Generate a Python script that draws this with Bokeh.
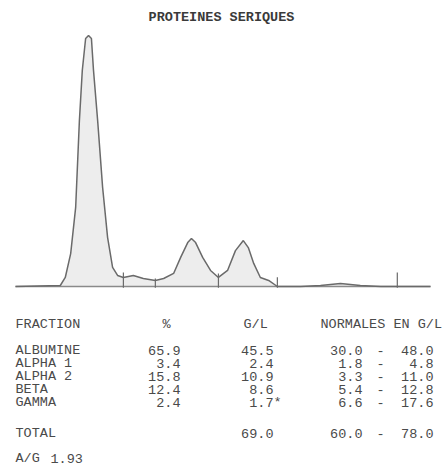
from bokeh.plotting import figure
from bokeh.layouts import column
from bokeh.models import Label, Range1d
from bokeh.embed import file_html
from bokeh.resources import INLINE
from bokeh.core.properties import value

# ---------------- data ----------------
title = "PROTEINES SERIQUES"

# densitometric trace: relative mobility (0-100) vs relative density (peak = 100)
mobility = [0.0, 10.8, 12.0, 13.3, 14.5, 15.4, 16.1, 16.9, 17.6, 18.3, 18.8, 19.8,
            21.0, 22.2, 23.4, 24.6, 26.0, 28.4, 30.8, 33.7, 35.7, 38.1, 39.8, 41.5,
            42.4, 43.4, 45.1, 47.0, 48.9, 51.1, 53.0, 54.9, 56.1, 57.4, 59.0, 61.0,
            63.1, 68.7, 73.5, 78.3, 83.1, 88.0, 100.0]
density = [0.0, 0.4, 3.6, 13.1, 31.5, 66.1, 86.1, 98.8, 100.0, 98.8, 86.1, 66.1,
           39.4, 19.5, 7.6, 4.4, 3.6, 4.4, 3.2, 2.4, 3.2, 5.2, 11.6, 17.5,
           19.1, 17.5, 11.6, 6.4, 3.6, 6.4, 14.3, 18.3, 15.5, 9.2, 3.6, 2.4,
           0.0, 0.0, 0.4, 1.2, 0.4, 0.0, 0.0]

# fraction separators (mobility) and height of the separator marks
sep_x = [26.0, 33.7, 48.9, 63.1, 92.0]
sep_top = [5.6, 3.2, 5.2, 3.7, 5.6]

headers = ["FRACTION", "%", "G/L", "NORMALES EN G/L"]
fractions = ["ALBUMINE", "ALPHA 1", "ALPHA 2", "BETA", "GAMMA"]
percent = [65.9, 3.4, 15.8, 12.4, 2.4]
conc_gl = [45.5, 2.4, 10.9, 8.6, 1.7]
flags = ["", "", "", "", "*"]
norm_low = [30.0, 1.8, 3.3, 5.4, 6.6]
norm_high = [48.0, 4.8, 11.0, 12.8, 17.6]
total_label = "TOTAL"
total_gl = 69.0
total_low = 60.0
total_high = 78.0
ag_label = "A/G"
ag_ratio = 1.93

# ---------------- style ----------------
FONT = "Liberation Mono"
FS = "13.5px"
TXT = "#4a4a4a"

# ---------------- trace figure ----------------
p = figure(width=443, height=298, x_range=Range1d(-3.61, 103.13),
           y_range=Range1d(-4.78, 113.94), output_backend="svg",
           toolbar_location=None, min_border=0)
p.axis.visible = False
p.grid.visible = False
p.outline_line_color = None

p.varea(x=mobility, y1=[0] * len(mobility), y2=density, fill_color="#ededed")
p.line(x=[mobility[0], mobility[-1]], y=[0, 0], line_color="#8a8a8a", line_width=1.6)
p.line(x=mobility, y=density, line_color="#6a6a6a", line_width=1.5)
p.segment(x0=sep_x, y0=[-0.5] * len(sep_x), x1=sep_x, y1=sep_top,
          line_color="#6a6a6a", line_width=1.2)

p.add_layout(Label(x=221, y=281, x_units="screen", y_units="screen", text=title,
                   text_font=FONT, text_font_size=FS, text_color="#3a3a3a",
                   text_font_style="bold", text_align="center",
                   text_baseline="middle"))

# ---------------- table figure ----------------
t = figure(width=443, height=171, x_range=Range1d(0, 443), y_range=Range1d(469, 298),
           output_backend="svg", toolbar_location=None, min_border=0)
t.axis.visible = False
t.grid.visible = False
t.outline_line_color = None

head_y = 324
row_y = [350, 363, 376, 389, 402]
total_y = 433
ag_y = 458

common = dict(text_font=value(FONT), text_font_size=value(FS), text_color=TXT,
              text_baseline="middle")

# headers
t.text(x=[15, 243, 320], y=[head_y] * 3, text=[headers[0], headers[2], headers[3]],
       text_align="left", **common)
t.text(x=[166], y=[head_y], text=[headers[1]], text_align="center", **common)

# fraction rows
n = len(fractions)
t.text(x=[15] * n, y=row_y, text=fractions, text_align="left", **common)
t.text(x=[180] * n, y=row_y, text=[f"{v:.1f}" for v in percent], text_align="right", **common)
t.text(x=[273] * n, y=row_y, text=[f"{v:.1f}" for v in conc_gl], text_align="right", **common)
t.text(x=[273] * n, y=row_y, text=flags, text_align="left", **common)
t.text(x=[362] * n, y=row_y, text=[f"{v:.1f}" for v in norm_low], text_align="right", **common)
t.text(x=[380] * n, y=row_y, text=["-"] * n, text_align="center", **common)
t.text(x=[433] * n, y=row_y, text=[f"{v:.1f}" for v in norm_high], text_align="right", **common)

# total row
t.text(x=[15], y=[total_y], text=[total_label], text_align="left", **common)
t.text(x=[273], y=[total_y], text=[f"{total_gl:.1f}"], text_align="right", **common)
t.text(x=[362], y=[total_y], text=[f"{total_low:.1f}"], text_align="right", **common)
t.text(x=[380], y=[total_y], text=["-"], text_align="center", **common)
t.text(x=[433], y=[total_y], text=[f"{total_high:.1f}"], text_align="right", **common)

# A/G ratio
t.text(x=[15], y=[ag_y], text=[ag_label], text_align="left", **common)
t.text(x=[50], y=[ag_y], text=[f"{ag_ratio:.2f}"], text_align="left", **common)

layout = column(p, t, spacing=0)
open("out.html", "w").write(file_html(layout, INLINE))
